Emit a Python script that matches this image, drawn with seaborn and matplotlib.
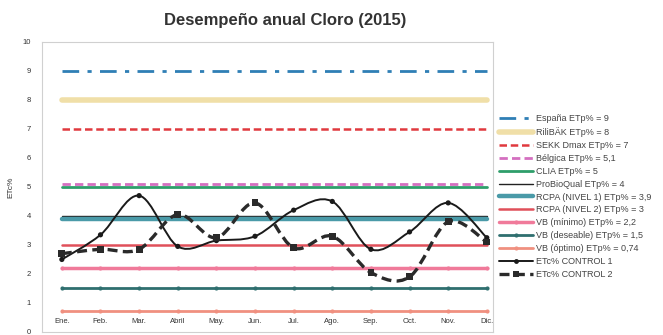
import matplotlib
matplotlib.use("Agg")
import matplotlib.pyplot as plt
from matplotlib.path import Path
from matplotlib.patches import PathPatch
from matplotlib.lines import Line2D
import seaborn as sns
import numpy as np
import pandas as pd

months = ["Ene.", "Feb.", "Mar.", "Abril", "May.", "Jun.", "Jul.", "Ago.", "Sep.", "Oct.", "Nov.", "Dic."]
control1 = [2.5, 3.35, 4.7, 2.95, 3.15, 3.3, 4.2, 4.5, 2.85, 3.45, 4.45, 3.25]
control2 = [2.7, 2.85, 2.85, 4.05, 3.25, 4.45, 2.9, 3.3, 2.05, 1.9, 3.8, 3.1]

ref_names = ["España ETp% = 9", "RiliBÄK ETp% = 8", "SEKK Dmax ETp% = 7", "Bélgica ETp% = 5,1",
             "CLIA ETp% = 5", "ProBioQual ETp% = 4", "RCPA (NIVEL 1) ETp% = 3,9",
             "RCPA (NIVEL 2) ETp% = 3", "VB (mínimo) ETp% = 2,2", "VB (deseable) ETp% = 1,5",
             "VB (óptimo) ETp% = 0,74"]
ref_values = [9, 8, 7, 5.1, 5, 4, 3.9, 3, 2.2, 1.5, 0.74]
control_names = ["ETc% CONTROL 1", "ETc% CONTROL 2"]

ref_styles = [
    dict(color="#2f7fb5", lw=2.0, ls=(0, (6, 3, 1.5, 3)), marker=None, z=2),
    dict(color="#f0dfa8", lw=4.0, ls="-", marker=None, z=2),
    dict(color="#e0393e", lw=1.8, ls=(0, (3, 1.5)), marker=None, z=2),
    dict(color="#d46fc0", lw=2.0, ls=(0, (3, 1.5)), marker=None, z=2),
    dict(color="#2e9e6a", lw=2.0, ls="-", marker=None, z=2),
    dict(color="#222222", lw=1.0, ls="-", marker=None, z=1),
    dict(color="#4a9aa8", lw=3.2, ls="-", marker=None, z=2),
    dict(color="#e0505a", lw=1.8, ls="-", marker=None, z=2),
    dict(color="#f07a9a", lw=2.5, ls="-", marker="o", z=2),
    dict(color="#2f6f6f", lw=2.0, ls="-", marker="o", z=2),
    dict(color="#f09080", lw=2.0, ls="-", marker="o", z=2),
]

sns.set_theme(style="white")
plt.rcParams["font.family"] = ["Liberation Sans", "DejaVu Sans"]

fig = plt.figure(figsize=(6.63, 3.35), dpi=100)
ax = fig.add_axes([0.063, 0.009, 0.680, 0.866])

x = np.arange(len(months))
for name, val, st in zip(ref_names, ref_values, ref_styles):
    df = pd.DataFrame({"x": x, "y": [val] * len(months)})
    sns.lineplot(data=df, x="x", y="y", ax=ax, color=st["color"], linewidth=st["lw"],
                 linestyle=st["ls"], marker=st["marker"], markersize=3.0,
                 markeredgewidth=0, legend=False, zorder=st["z"])


def smooth_path(xs, ys):
    pts = np.column_stack([xs, ys]).astype(float)
    n = len(pts)
    verts = [pts[0]]
    codes = [Path.MOVETO]
    for i in range(n - 1):
        p0 = pts[i - 1] if i > 0 else pts[i]
        p1 = pts[i]
        p2 = pts[i + 1]
        p3 = pts[i + 2] if i + 2 < n else pts[i + 1]
        c1 = p1 + (p2 - p0) / 6.0
        c2 = p2 - (p3 - p1) / 6.0
        verts += [c1, c2, p2]
        codes += [Path.CURVE4] * 3
    return Path(verts, codes)


ax.add_patch(PathPatch(smooth_path(x, control1), facecolor="none", edgecolor="#1a1a1a",
                       lw=1.4, zorder=4))
ax.add_patch(PathPatch(smooth_path(x, control2), facecolor="none", edgecolor="#2a2a2a",
                       lw=2.4, ls=(0, (3, 1.6)), zorder=4))
sns.scatterplot(x=x, y=control1, ax=ax, color="#1a1a1a", s=14, edgecolor="none", zorder=5, legend=False)
sns.scatterplot(x=x, y=control2, ax=ax, color="#2a2a2a", s=24, marker="s", edgecolor="none", zorder=5, legend=False)

ax.set_xlim(-0.52, 11.15)
ax.set_ylim(0, 10)
ax.set_yticks(range(0, 11))
ax.set_yticklabels([str(i) for i in range(0, 11)], fontsize=5.5, color="#333333")
ax.set_xticks(x)
ax.set_xticklabels(months, fontsize=5.5, color="#333333")
ax.tick_params(axis="x", length=0, pad=-10)
ax.tick_params(axis="y", length=0, pad=8)
ax.set_xlabel("")
ax.set_ylabel("ETc%", fontsize=6, color="#333333", labelpad=6)
for sp in ax.spines.values():
    sp.set_color("#d0d0d0")
    sp.set_linewidth(0.8)

fig.text(0.43, 0.94, "Desempeño anual Cloro (2015)", ha="center", va="center",
         fontsize=12, fontweight="bold", color="#333333")

handles = []
for st in ref_styles:
    handles.append(Line2D([], [], color=st["color"], lw=st["lw"], ls=st["ls"],
                          marker=st["marker"], markersize=3, markeredgewidth=0))
handles.append(Line2D([], [], color="#1a1a1a", lw=1.4, marker="o", markersize=3.5, markeredgewidth=0))
handles.append(Line2D([], [], color="#2a2a2a", lw=2.4, ls=(0, (3, 1.6)), marker="s",
                      markersize=4.5, markeredgewidth=0))
leg = fig.legend(handles, ref_names + control_names, loc="upper left",
                 bbox_to_anchor=(0.746, 0.672), frameon=False, fontsize=6.5,
                 handlelength=3.7, handletextpad=0.4, labelspacing=0.43, borderpad=0)
for t in leg.get_texts():
    t.set_color("#444444")

fig.savefig("out.png", dpi=100)
